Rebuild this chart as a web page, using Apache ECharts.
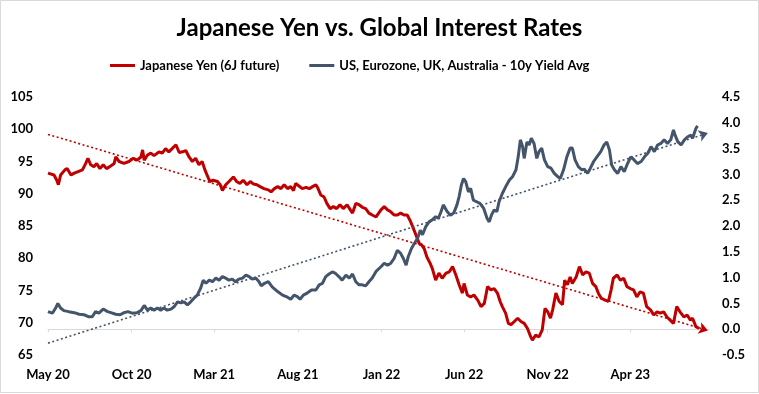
<!DOCTYPE html>
<html><head><meta charset="utf-8">
<script src="https://cdn.jsdelivr.net/npm/echarts@6/dist/echarts.min.js"></script>
<style>html,body{margin:0;padding:0;background:#fff}#c{width:759px;height:394px}</style>
</head><body><div id="c"></div>
<script>
const titleText = 'Japanese Yen vs. Global Interest Rates';
const yenName = 'Japanese Yen (6J future)';
const yieldName = 'US, Eurozone, UK, Australia - 10y Yield Avg';

const tickDates = ['2020-05-01','2020-10-01','2021-03-01','2021-08-01','2022-01-01','2022-06-01','2022-11-01','2023-04-01'];
const tickLabels = ['May 20','Oct 20','Mar 21','Aug 21','Jan 22','Jun 22','Nov 22','Apr 23'];
const axisEndDate = '2023-08-23';

const yenDates = ['2020-05-01','2020-05-12','2020-05-17','2020-05-20','2020-05-24','2020-06-01','2020-06-05','2020-06-12','2020-06-18','2020-06-24','2020-07-03','2020-07-09','2020-07-13','2020-07-18','2020-07-24','2020-07-29','2020-08-04','2020-08-10','2020-08-16','2020-08-22','2020-08-30','2020-09-02','2020-09-08','2020-09-17','2020-09-26','2020-10-04','2020-10-11','2020-10-18','2020-10-21','2020-10-24','2020-10-30','2020-11-05','2020-11-11','2020-11-20','2020-11-26','2020-12-02','2020-12-08','2020-12-14','2020-12-21','2020-12-27',
'2021-01-02','2021-01-08','2021-01-14','2021-01-20','2021-01-26','2021-02-01','2021-02-07','2021-02-12','2021-02-16','2021-02-21','2021-02-27','2021-03-07','2021-03-12','2021-03-16','2021-03-22','2021-03-28','2021-04-05','2021-04-11','2021-04-17','2021-04-23','2021-04-30','2021-05-06','2021-05-12','2021-05-18','2021-05-24','2021-05-31','2021-06-08','2021-06-13','2021-06-19','2021-06-25','2021-07-01','2021-07-07','2021-07-13','2021-07-19','2021-07-24','2021-07-28','2021-08-03','2021-08-09','2021-08-16','2021-08-22','2021-08-28','2021-09-03','2021-09-07','2021-09-12','2021-09-18','2021-09-23','2021-09-29','2021-10-05','2021-10-11','2021-10-17','2021-10-23','2021-10-30','2021-11-05','2021-11-09','2021-11-15','2021-11-21','2021-11-27','2021-12-03','2021-12-09','2021-12-15','2021-12-22','2021-12-31',
'2022-01-06','2022-01-12','2022-01-18','2022-01-24','2022-01-30','2022-02-05','2022-02-11','2022-02-17','2022-02-22','2022-02-27','2022-03-05','2022-03-11','2022-03-15','2022-03-20','2022-03-25','2022-03-31','2022-04-04','2022-04-10','2022-04-16','2022-04-22','2022-04-29','2022-05-05','2022-05-11','2022-05-17','2022-05-23','2022-05-29','2022-06-01','2022-06-07','2022-06-13','2022-06-19','2022-06-26','2022-07-02','2022-07-08','2022-07-14','2022-07-20','2022-07-26','2022-08-01','2022-08-06','2022-08-10','2022-08-16','2022-08-21','2022-08-26','2022-09-01','2022-09-07','2022-09-13','2022-09-19','2022-09-25','2022-10-01','2022-10-04','2022-10-10','2022-10-16','2022-10-22','2022-10-27','2022-11-01','2022-11-06','2022-11-10','2022-11-16','2022-11-22','2022-11-28','2022-12-02','2022-12-07','2022-12-12','2022-12-16','2022-12-23','2022-12-29',
'2023-01-04','2023-01-10','2023-01-16','2023-01-22','2023-01-28','2023-02-02','2023-02-07','2023-02-14','2023-02-20','2023-02-25','2023-03-01','2023-03-08','2023-03-14','2023-03-20','2023-03-26','2023-04-01','2023-04-07','2023-04-13','2023-04-19','2023-04-25','2023-05-01','2023-05-08','2023-05-14','2023-05-20','2023-05-26','2023-06-01','2023-06-07','2023-06-13','2023-06-19','2023-06-25','2023-07-01','2023-07-08','2023-07-14','2023-07-20','2023-07-24','2023-07-30','2023-08-05'];
const yenValues = [93.2,92.9,92.1,91.4,92.9,93.7,93.9,92.9,93.2,93.4,93.7,94.7,95.5,94.5,94.2,94.7,93.9,94.5,93.9,94.2,94.7,95.7,95.0,94.7,95.0,95.5,95.2,95.7,96.8,95.2,96.0,96.3,95.9,96.5,96.3,97.0,96.5,97.0,97.6,96.4,
96.5,96.7,95.7,95.0,95.5,94.5,95.0,93.7,92.9,91.9,92.1,91.9,91.4,90.5,91.4,91.9,92.6,91.9,91.6,92.1,91.4,91.9,91.5,91.4,91.1,90.8,90.6,90.3,90.8,91.1,90.8,91.4,90.8,91.1,90.5,91.6,91.2,90.8,91.0,90.8,91.1,91.4,90.8,89.8,89.5,88.5,87.7,88.0,87.7,88.3,87.7,88.3,87.5,87.0,88.5,88.3,87.9,87.7,87.0,86.7,86.4,87.5,
88.0,87.5,87.2,86.7,86.7,87.0,86.7,86.7,85.9,84.9,83.6,82.3,82.1,81.5,80.2,79.2,78.4,76.6,77.7,76.9,77.7,77.9,78.7,77.4,75.9,74.6,76.1,74.3,74.0,74.3,73.5,72.5,73.0,75.6,75.1,75.3,74.6,73.3,72.5,71.5,69.9,69.7,70.2,70.7,70.2,69.9,69.1,67.8,67.3,68.1,67.8,68.9,72.2,71.7,70.7,72.0,74.6,73.3,72.8,76.6,75.9,77.1,76.1,77.1,78.7,
77.4,77.9,77.7,76.1,75.6,74.5,73.8,73.5,73.3,75.1,76.9,77.4,76.6,76.9,75.6,75.3,75.1,74.0,74.8,74.6,72.5,72.0,71.2,71.7,71.5,71.7,70.9,70.4,69.9,72.5,71.7,70.9,71.2,70.4,70.7,69.4,69.1];

const yieldDates = ['2020-05-01','2020-05-09','2020-05-15','2020-05-19','2020-05-24','2020-05-30','2020-06-08','2020-06-18','2020-06-27','2020-07-06','2020-07-15','2020-07-21','2020-07-27','2020-08-02','2020-08-10','2020-08-18','2020-08-24','2020-09-02','2020-09-10','2020-09-17','2020-09-24','2020-10-02','2020-10-11','2020-10-18','2020-10-24','2020-10-30','2020-11-05','2020-11-11','2020-11-17','2020-11-23','2020-11-29','2020-12-05','2020-12-12','2020-12-18','2020-12-24','2020-12-30',
'2021-01-05','2021-01-11','2021-01-17','2021-01-23','2021-01-29','2021-02-04','2021-02-09','2021-02-14','2021-02-20','2021-02-26','2021-03-04','2021-03-10','2021-03-16','2021-03-22','2021-03-28','2021-04-03','2021-04-09','2021-04-15','2021-04-22','2021-04-28','2021-05-04','2021-05-10','2021-05-16','2021-05-22','2021-05-26','2021-06-01','2021-06-08','2021-06-15','2021-06-25','2021-07-04','2021-07-13','2021-07-19','2021-07-25','2021-07-31','2021-08-05','2021-08-11','2021-08-18','2021-08-26','2021-09-03','2021-09-09','2021-09-15','2021-09-21','2021-09-27','2021-10-03','2021-10-09','2021-10-15','2021-10-21','2021-10-28','2021-11-03','2021-11-09','2021-11-15','2021-11-21','2021-11-27','2021-12-03','2021-12-09','2021-12-15','2021-12-22','2021-12-31',
'2022-01-06','2022-01-12','2022-01-18','2022-01-24','2022-01-30','2022-02-05','2022-02-10','2022-02-15','2022-02-19','2022-02-25','2022-03-02','2022-03-08','2022-03-13','2022-03-17','2022-03-23','2022-03-29','2022-04-04','2022-04-10','2022-04-15','2022-04-20','2022-04-24','2022-05-01','2022-05-07','2022-05-13','2022-05-19','2022-05-23','2022-05-27','2022-05-31','2022-06-04','2022-06-09','2022-06-13','2022-06-18','2022-06-24','2022-06-30','2022-07-07','2022-07-13','2022-07-17','2022-07-21','2022-07-26','2022-07-31','2022-08-04','2022-08-10','2022-08-16','2022-08-23','2022-08-29','2022-09-04','2022-09-08','2022-09-12','2022-09-16','2022-09-19','2022-09-24','2022-09-28','2022-10-02','2022-10-07','2022-10-12','2022-10-16','2022-10-21','2022-10-26','2022-11-01','2022-11-07','2022-11-13','2022-11-19','2022-11-24','2022-11-30','2022-12-06','2022-12-12','2022-12-16','2022-12-21','2022-12-27',
'2023-01-02','2023-01-07','2023-01-13','2023-01-18','2023-01-24','2023-01-30','2023-02-06','2023-02-12','2023-02-17','2023-02-22','2023-02-26','2023-03-03','2023-03-09','2023-03-15','2023-03-21','2023-03-27','2023-04-02','2023-04-08','2023-04-14','2023-04-21','2023-04-27','2023-05-03','2023-05-09','2023-05-15','2023-05-21','2023-05-27','2023-06-02','2023-06-08','2023-06-14','2023-06-19','2023-06-22','2023-06-27','2023-07-03','2023-07-09','2023-07-15','2023-07-21','2023-07-24','2023-07-30','2023-08-02'];
const yieldValues = [0.34,0.31,0.41,0.50,0.41,0.36,0.34,0.32,0.29,0.28,0.24,0.24,0.34,0.31,0.39,0.34,0.32,0.29,0.28,0.32,0.34,0.31,0.32,0.36,0.46,0.37,0.41,0.37,0.41,0.37,0.41,0.37,0.39,0.44,0.53,0.51,
0.53,0.47,0.53,0.60,0.66,0.79,0.95,0.89,0.95,0.92,0.99,0.95,1.02,0.99,0.95,0.97,0.92,0.97,0.99,1.05,1.02,0.97,0.99,0.92,0.84,0.89,0.92,0.82,0.73,0.66,0.62,0.58,0.66,0.63,0.58,0.66,0.70,0.76,0.76,0.86,0.89,1.02,1.07,1.11,1.08,1.02,0.95,1.05,0.99,1.07,0.92,0.86,0.86,0.84,0.92,0.99,1.12,1.21,
1.28,1.24,1.28,1.37,1.53,1.47,1.37,1.24,1.41,1.57,1.66,1.76,1.92,1.83,1.99,2.08,2.12,2.18,2.15,2.28,2.41,2.28,2.21,2.25,2.41,2.57,2.79,2.92,2.86,2.66,2.73,2.50,2.47,2.44,2.34,2.15,2.08,2.21,2.31,2.28,2.47,2.63,2.76,2.89,2.96,3.09,3.34,3.67,3.54,3.31,3.63,3.57,3.70,3.60,3.31,3.44,3.51,3.28,3.15,3.12,3.02,2.96,2.92,3.09,3.34,3.51,3.51,3.28,3.15,
3.09,3.10,3.02,3.12,3.25,3.34,3.44,3.57,3.63,3.47,3.18,3.09,3.02,3.15,3.05,3.21,3.34,3.28,3.21,3.25,3.34,3.41,3.54,3.44,3.57,3.60,3.67,3.60,3.67,3.86,3.76,3.63,3.57,3.67,3.73,3.76,3.70,3.89,3.94];

const trendDates = ['2020-05-01','2023-08-21'];
const yenTrend = [99.2, 68.8];
const yieldTrend = [-0.27, 3.80];

const FONT = 'Lato, "Open Sans", sans-serif';
const RED = '#C00000';
const GRAY = '#44546A';

function ts(s){ const p = s.split('-'); return Date.UTC(+p[0], +p[1]-1, +p[2]); }
const tickTs = tickDates.map(ts);
function labelFor(v){
  let best = 0, bd = Infinity;
  tickTs.forEach((t,i)=>{ const d = Math.abs(t - v); if(d < bd){ bd = d; best = i; } });
  return bd < 5*86400000 ? tickLabels[best] : '';
}
const zip = (d, v) => d.map((x,i)=>[ts(x), v[i]]);

const chart = echarts.init(document.getElementById('c'));
chart.setOption({
  animation: false,
  backgroundColor: '#fff',
  graphic: [{type:'rect', silent:true, shape:{x:0.5,y:0.5,width:758,height:392}, style:{fill:'none', stroke:'#d9d9d9', lineWidth:1}}],
  title: {text: titleText, left: 'center', top: 11, textStyle:{fontFamily: FONT, fontWeight:'bold', fontSize:24, color:'#000'}},
  legend: {left: 110, top: 59, padding: 0, icon:'rect', itemWidth:25, itemHeight:3, itemGap:30,
    textStyle:{fontFamily: FONT, fontWeight:'bold', fontSize:13, color:'#000'},
    data:[{name: yenName, itemStyle:{color: RED}}, {name: yieldName, itemStyle:{color: GRAY}}]},
  grid: {left: 48, right: 50, top: 97, bottom: 39, containLabel: false},
  xAxis: {type:'value', min: ts(tickDates[0]), max: ts(axisEndDate), scale:true,
    axisLine:{show:true, lineStyle:{color:'#d9d9d9', width:1}},
    axisTick:{show:true, customValues: tickTs, length:3, lineStyle:{color:'#d9d9d9'}},
    axisLabel:{customValues: tickTs, formatter: labelFor, fontFamily: FONT, fontWeight:'bold', fontSize:13, color:'#000', margin:13, showMinLabel:true},
    splitLine:{show:false}},
  yAxis: [
    {type:'value', min:65, max:105, interval:5, axisLine:{show:false}, axisTick:{show:false}, splitLine:{show:false},
     axisLabel:{fontFamily: FONT, fontWeight:'bold', fontSize:13, color:'#000', margin:15}},
    {type:'value', position:'right', min:-0.5, max:4.5, interval:0.5, axisLine:{show:false}, axisTick:{show:false}, splitLine:{show:false},
     axisLabel:{fontFamily: FONT, fontWeight:'bold', fontSize:13, color:'#000', margin:13, formatter: v => v.toFixed(1)}}
  ],
  series: [
    {name: yenName, type:'line', yAxisIndex:0, data: zip(yenDates, yenValues), showSymbol:false, symbol:'none',
     lineStyle:{color: RED, width:3}, itemStyle:{color: RED}, z:2,
     markLine:{silent:true, symbol:['none','arrow'], symbolSize:9, label:{show:false},
       lineStyle:{color: RED, type:[2,2.5], width:1.6}, emphasis:{disabled:true},
       data:[[{coord:[ts(trendDates[0]), yenTrend[0]]},{coord:[ts(trendDates[1]), yenTrend[1]]}]]}},
    {name: yieldName, type:'line', yAxisIndex:1, data: zip(yieldDates, yieldValues), showSymbol:false, symbol:'none',
     lineStyle:{color: GRAY, width:3}, itemStyle:{color: GRAY}, z:3,
     markLine:{silent:true, symbol:['none','arrow'], symbolSize:9, label:{show:false},
       lineStyle:{color: GRAY, type:[2,2.5], width:1.6}, emphasis:{disabled:true},
       data:[[{coord:[ts(trendDates[0]), yieldTrend[0]]},{coord:[ts(trendDates[1]), yieldTrend[1]]}]]}}
  ]
});
</script></body></html>
